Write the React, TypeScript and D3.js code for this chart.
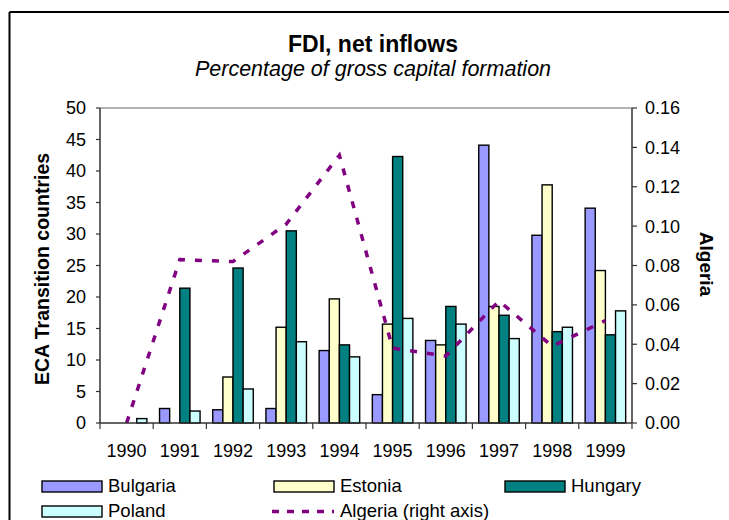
import React from 'react';
import * as d3 from 'd3';

// FDI net inflows, % of gross capital formation
const years = ['1990', '1991', '1992', '1993', '1994', '1995', '1996', '1997', '1998', '1999'];
const bulgaria: (number | null)[] = [null, 2.3, 2.1, 2.3, 11.5, 4.5, 13.1, 44.1, 29.8, 34.1];
const estonia: (number | null)[] = [null, null, 7.3, 15.2, 19.7, 15.7, 12.4, 18.5, 37.8, 24.2];
const hungary: (number | null)[] = [null, 21.4, 24.6, 30.5, 12.4, 42.3, 18.5, 17.1, 14.5, 14.0];
const poland: (number | null)[] = [0.7, 1.9, 5.4, 12.9, 10.5, 16.6, 15.7, 13.4, 15.2, 17.8];
const algeria = [0, 0.083, 0.082, 0.101, 0.136, 0.038, 0.034, 0.062, 0.039, 0.052];

const leftTicks = [0, 5, 10, 15, 20, 25, 30, 35, 40, 45, 50];
const rightTicks = [0, 0.02, 0.04, 0.06, 0.08, 0.1, 0.12, 0.14, 0.16];

const barSeries = [
  { name: 'Bulgaria', values: bulgaria, color: '#9999FF' },
  { name: 'Estonia', values: estonia, color: '#FFFFCC' },
  { name: 'Hungary', values: hungary, color: '#008080' },
  { name: 'Poland', values: poland, color: '#CCFFFF' },
];
const lineColor = '#800080';

const W = 729;
const H = 520;
const plot = { left: 100, right: 632, top: 108, bottom: 423 };
const font = '"Liberation Sans", Arial, Helvetica, sans-serif';

export default function App() {
  const x = d3.scaleBand<string>().domain(years).range([plot.left, plot.right]).padding(0);
  const band = x.bandwidth();
  const barW = band / 5.25;
  const groupOffset = (band - barW * barSeries.length) / 2;
  const yL = d3.scaleLinear().domain([0, 50]).range([plot.bottom, plot.top]);
  const yR = d3.scaleLinear().domain([0, 0.16]).range([plot.bottom, plot.top]);

  const line = d3
    .line<number>()
    .x((_, i) => (x(years[i]) as number) + band / 2)
    .y((d) => yR(d));

  return (
    <svg
      width={W}
      height={H}
      style={{ position: 'absolute', left: 0, top: 0, background: '#fff' }}
      fontFamily={font}
    >
      {/* chart frame */}
      <line x1={9.5} y1={12} x2={W} y2={12} stroke="#000" strokeWidth={2} />
      <line x1={9.5} y1={12} x2={9.5} y2={H} stroke="#000" strokeWidth={2} />

      {/* titles */}
      <text x={373} y={52} textAnchor="middle" fontSize={23} fontWeight="bold" fill="#000">
        FDI, net inflows
      </text>
      <text x={373} y={76} textAnchor="middle" fontSize={21.5} fontStyle="italic" fill="#000">
        Percentage of gross capital formation
      </text>

      {/* plot area top edge */}
      <line x1={plot.left} y1={plot.top} x2={plot.right} y2={plot.top} stroke="#999" strokeWidth={1.5} />

      {/* bars */}
      {barSeries.map((s, si) =>
        s.values.map((v, i) =>
          v == null ? null : (
            <rect
              key={s.name + i}
              x={(x(years[i]) as number) + groupOffset + si * barW}
              y={yL(v)}
              width={barW}
              height={plot.bottom - yL(v)}
              fill={s.color}
              stroke="#000"
              strokeWidth={1.4}
            />
          )
        )
      )}

      {/* Algeria line (right axis) */}
      <path
        d={line(algeria) || ''}
        fill="none"
        stroke={lineColor}
        strokeWidth={3.5}
        strokeDasharray="7,10"
      />

      {/* left axis */}
      <line x1={plot.left} y1={plot.top} x2={plot.left} y2={plot.bottom} stroke="#333" strokeWidth={1.5} />
      {leftTicks.map((t) => (
        <g key={'l' + t}>
          <line x1={plot.left - 4} x2={plot.left} y1={yL(t)} y2={yL(t)} stroke="#333" strokeWidth={1.2} />
          <text x={86} y={yL(t)} dy="0.36em" textAnchor="end" fontSize={18} fill="#000">
            {t}
          </text>
        </g>
      ))}

      {/* right axis */}
      <line x1={plot.right} y1={plot.top} x2={plot.right} y2={plot.bottom} stroke="#333" strokeWidth={1.5} />
      {rightTicks.map((t) => (
        <g key={'r' + t}>
          <line x1={plot.right} x2={plot.right + 5} y1={yR(t)} y2={yR(t)} stroke="#333" strokeWidth={1.2} />
          <text x={645} y={yR(t)} dy="0.36em" textAnchor="start" fontSize={18} fill="#000">
            {d3.format('.2f')(t)}
          </text>
        </g>
      ))}

      {/* category axis */}
      <line x1={plot.left} y1={plot.bottom} x2={plot.right} y2={plot.bottom} stroke="#333" strokeWidth={1.5} />
      {years.map((yr, i) => (
        <line
          key={'xt' + yr}
          x1={(x(yr) as number)}
          x2={(x(yr) as number)}
          y1={plot.bottom}
          y2={plot.bottom + 6}
          stroke="#333"
          strokeWidth={1.2}
        />
      ))}
      <line x1={plot.right} x2={plot.right} y1={plot.bottom} y2={plot.bottom + 6} stroke="#333" strokeWidth={1.2} />
      {years.map((yr) => (
        <text key={'xl' + yr} x={(x(yr) as number) + band / 2} y={457} textAnchor="middle" fontSize={18} fill="#000">
          {yr}
        </text>
      ))}

      {/* axis titles */}
      <text
        transform="translate(49,269) rotate(-90)"
        textAnchor="middle"
        fontSize={19.5}
        fontWeight="bold"
        fill="#000"
      >
        ECA Transition countries
      </text>
      <text
        transform="translate(700,264) rotate(90)"
        textAnchor="middle"
        fontSize={19}
        fontWeight="bold"
        fill="#000"
      >
        Algeria
      </text>

      {/* legend */}
      {[
        { s: barSeries[0], x: 42, y: 481 },
        { s: barSeries[1], x: 274, y: 481 },
        { s: barSeries[2], x: 505, y: 481 },
        { s: barSeries[3], x: 42, y: 506 },
      ].map(({ s, x: lx, y: ly }) => (
        <g key={'lg' + s.name}>
          <rect x={lx} y={ly} width={60} height={11} fill={s.color} stroke="#000" strokeWidth={1.4} />
          <text x={lx + 66} y={ly + 11} fontSize={18.5} fill="#000">
            {s.name}
          </text>
        </g>
      ))}
      <line x1={272} x2={334} y1={511.5} y2={511.5} stroke={lineColor} strokeWidth={3.5} strokeDasharray="7,8" />
      <text x={340} y={517} fontSize={18.5} fill="#000">
        Algeria (right axis)
      </text>
    </svg>
  );
}
